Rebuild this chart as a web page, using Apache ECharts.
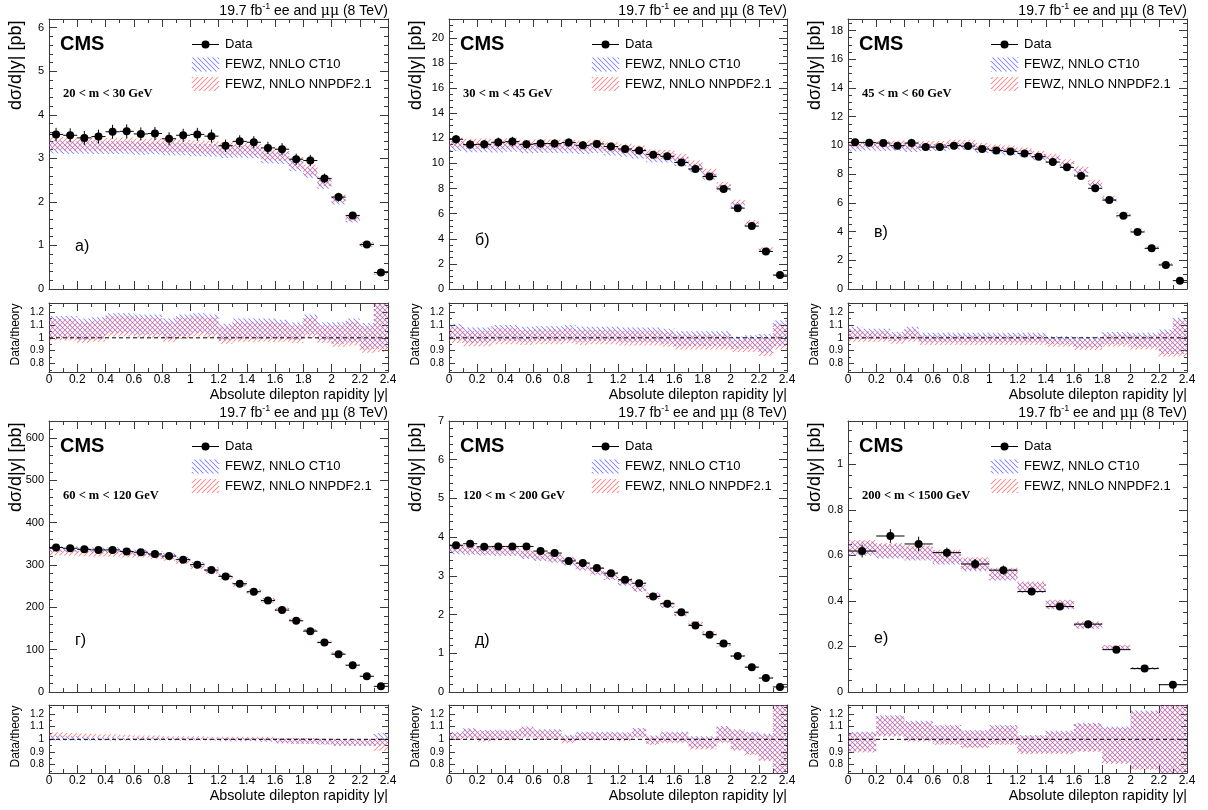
<!DOCTYPE html>
<html>
<head>
<meta charset="utf-8">
<script src="https://cdn.jsdelivr.net/npm/echarts@6/dist/echarts.min.js"></script>
<style>
  html, body { margin: 0; padding: 0; background: #fff; }
  #chart { width: 1208px; height: 810px; }
</style>
</head>
<body>
<div id="chart"></div>
<script>
// Bin edges in absolute dilepton rapidity |y|
const rapidityEdgesFine = [0, 0.1, 0.2, 0.3, 0.4, 0.5, 0.6, 0.7, 0.8, 0.9, 1.0, 1.1, 1.2, 1.3, 1.4, 1.5, 1.6, 1.7, 1.8, 1.9, 2.0, 2.1, 2.2, 2.3, 2.4];
const rapidityEdgesCoarse = [0, 0.2, 0.4, 0.6, 0.8, 1.0, 1.2, 1.4, 1.6, 1.8, 2.0, 2.2, 2.4];

// Measured dσ/d|y| [pb] and its uncertainty, per mass window
const xsec20to30 = [3.55, 3.53, 3.47, 3.50, 3.61, 3.62, 3.56, 3.57, 3.45, 3.53, 3.55, 3.51, 3.29, 3.39, 3.37, 3.24, 3.21, 2.98, 2.95, 2.54, 2.11, 1.69, 1.02, 0.38];
const err20to30 = [0.15, 0.16, 0.16, 0.16, 0.16, 0.16, 0.15, 0.15, 0.15, 0.15, 0.15, 0.15, 0.14, 0.14, 0.14, 0.14, 0.14, 0.13, 0.13, 0.11, 0.10, 0.08, 0.05, 0.03];
const xsec30to45 = [11.92, 11.50, 11.52, 11.68, 11.74, 11.52, 11.58, 11.58, 11.66, 11.44, 11.55, 11.34, 11.15, 11.02, 10.70, 10.57, 10.07, 9.56, 8.95, 7.97, 6.44, 5.01, 2.99, 1.11];
const err30to45 = [0.35, 0.35, 0.35, 0.38, 0.38, 0.33, 0.33, 0.33, 0.33, 0.32, 0.32, 0.31, 0.30, 0.30, 0.28, 0.28, 0.27, 0.26, 0.24, 0.22, 0.19, 0.15, 0.10, 0.05];
const xsec45to60 = [10.21, 10.19, 10.16, 9.98, 10.16, 9.88, 9.88, 9.98, 9.95, 9.74, 9.65, 9.58, 9.44, 9.21, 8.84, 8.47, 7.87, 7.01, 6.19, 5.10, 3.97, 2.83, 1.67, 0.58];
const err45to60 = [0.25, 0.25, 0.25, 0.25, 0.30, 0.22, 0.22, 0.22, 0.22, 0.22, 0.22, 0.22, 0.21, 0.21, 0.20, 0.20, 0.19, 0.17, 0.15, 0.13, 0.11, 0.08, 0.06, 0.03];
const xsec60to120 = [341, 339.5, 337, 335.5, 335.5, 332, 330, 326, 321, 312.6, 300.8, 288, 273, 255.8, 236.8, 216.3, 193.4, 168.2, 143.7, 116.8, 89.2, 63.2, 37.1, 13.4];
const err60to120 = [4, 4, 4, 4, 4, 4, 4, 4, 4, 4, 4, 3.5, 3.5, 3.5, 3, 3, 3, 2.5, 2.5, 2, 2, 1.5, 1, 0.5];
const xsec120to200 = [3.79, 3.83, 3.75, 3.76, 3.76, 3.76, 3.64, 3.59, 3.385, 3.33, 3.20, 3.07, 2.90, 2.81, 2.47, 2.28, 2.06, 1.72, 1.48, 1.25, 0.93, 0.64, 0.36, 0.13];
const err120to200 = [0.06, 0.06, 0.06, 0.06, 0.06, 0.06, 0.06, 0.06, 0.06, 0.06, 0.05, 0.05, 0.05, 0.05, 0.05, 0.045, 0.04, 0.04, 0.035, 0.03, 0.025, 0.02, 0.015, 0.01];
const xsec200to1500 = [0.619, 0.685, 0.650, 0.612, 0.562, 0.535, 0.441, 0.375, 0.298, 0.186, 0.103, 0.032];
const err200to1500 = [0.028, 0.030, 0.032, 0.022, 0.022, 0.020, 0.016, 0.013, 0.010, 0.008, 0.006, 0.004];

// Data/theory bands: upper edge (CT10 side) and lower edge (NNPDF side)
const ratioHi20to30 = [1.17, 1.17, 1.15, 1.16, 1.19, 1.19, 1.18, 1.18, 1.15, 1.18, 1.19, 1.18, 1.11, 1.15, 1.15, 1.15, 1.14, 1.12, 1.18, 1.12, 1.12, 1.15, 1.115, 1.30];
const ratioLo20to30 = [0.98, 0.98, 0.96, 0.97, 1.01, 1.01, 1.00, 1.00, 0.97, 0.99, 1.01, 1.00, 0.955, 0.97, 0.97, 0.97, 0.97, 0.96, 1.00, 0.96, 0.93, 0.94, 0.885, 0.89];
const ratioHi30to45 = [1.11, 1.08, 1.08, 1.10, 1.10, 1.085, 1.09, 1.09, 1.10, 1.085, 1.085, 1.085, 1.08, 1.08, 1.08, 1.07, 1.05, 1.05, 1.05, 1.05, 1.01, 1.02, 1.03, 1.135];
const ratioLo30to45 = [0.96, 0.935, 0.935, 0.95, 0.95, 0.945, 0.95, 0.95, 0.957, 0.945, 0.95, 0.95, 0.94, 0.94, 0.94, 0.93, 0.91, 0.91, 0.91, 0.91, 0.89, 0.89, 0.86, 0.91];
const ratioHi45to60 = [1.085, 1.07, 1.07, 1.045, 1.085, 1.04, 1.04, 1.04, 1.04, 1.04, 1.04, 1.04, 1.04, 1.04, 1.013, 1.013, 1.008, 1.008, 1.045, 1.045, 1.04, 1.04, 1.065, 1.155];
const ratioLo45to60 = [0.97, 0.97, 0.97, 0.955, 0.97, 0.945, 0.945, 0.945, 0.945, 0.945, 0.945, 0.945, 0.945, 0.945, 0.93, 0.93, 0.905, 0.905, 0.93, 0.93, 0.91, 0.91, 0.855, 0.855];
const ratioHi60to120 = [1.055, 1.05, 1.045, 1.04, 1.04, 1.035, 1.03, 1.03, 1.025, 1.025, 1.025, 1.02, 1.02, 1.02, 1.02, 1.02, 1.01, 1.01, 1.01, 1.005, 1.0, 1.0, 1.0, 1.05];
const ratioLo60to120 = [0.99, 0.99, 0.99, 0.99, 0.99, 0.99, 0.99, 0.99, 0.99, 0.99, 0.99, 0.99, 0.985, 0.985, 0.985, 0.98, 0.97, 0.965, 0.965, 0.96, 0.95, 0.95, 0.95, 0.91];
const ratioHi120to200 = [1.06, 1.087, 1.075, 1.075, 1.075, 1.10, 1.08, 1.08, 1.035, 1.06, 1.06, 1.06, 1.055, 1.09, 1.03, 1.06, 1.06, 1.025, 1.025, 1.105, 1.08, 1.06, 1.045, 1.30];
const ratioLo120to200 = [0.995, 1.0, 0.98, 0.99, 0.99, 1.013, 0.995, 0.995, 0.97, 0.99, 0.99, 0.99, 0.985, 1.01, 0.955, 0.97, 0.97, 0.92, 0.92, 0.97, 0.91, 0.875, 0.83, 0.70];
const ratioHi200to1500 = [1.06, 1.19, 1.147, 1.113, 1.074, 1.113, 1.034, 1.068, 1.13, 1.10, 1.226, 1.30];
const ratioLo200to1500 = [0.897, 1.02, 0.98, 0.955, 0.93, 0.955, 0.884, 0.884, 0.90, 0.805, 0.758, 0.70];

// CT10 minus NNPDF2.1 shift of the data/theory ratio
const pdfShift60to120 = [-0.025, -0.025, -0.025, -0.025, -0.025, -0.025, -0.015, -0.015, -0.015, -0.015, -0.015, -0.015, -0.01, -0.01, -0.01, -0.01, 0, 0, 0, 0, 0, 0, 0, 0.04];
const pdfShift = [0.025, 0.025, 0.02, pdfShift60to120, 0.01, 0.01];
// Relative theory uncertainty of the FEWZ predictions
const theoryUnc = [0.045, 0.035, 0.025, 0.02, 0.03, 0.05];

const massWindows = ['20 < m < 30 GeV', '30 < m < 45 GeV', '45 < m < 60 GeV', '60 < m < 120 GeV', '120 < m < 200 GeV', '200 < m < 1500 GeV'];
const panelTags = ['а)', 'б)', 'в)', 'г)', 'д)', 'е)'];
const yAxisMax = [6.2, 21.5, 18.8, 640, 7, 1.19];
const yAxisStep = [1, 2, 2, 100, 1, 0.2];
const yMinorSplit = [5, 4, 4, 5, 5, 4];
const ratioRange = [0.735, 1.27];
const ratioUnity = 1;

const panels = [
  { edges: rapidityEdgesFine, xsec: xsec20to30, err: err20to30, hi: ratioHi20to30, lo: ratioLo20to30 },
  { edges: rapidityEdgesFine, xsec: xsec30to45, err: err30to45, hi: ratioHi30to45, lo: ratioLo30to45 },
  { edges: rapidityEdgesFine, xsec: xsec45to60, err: err45to60, hi: ratioHi45to60, lo: ratioLo45to60 },
  { edges: rapidityEdgesFine, xsec: xsec60to120, err: err60to120, hi: ratioHi60to120, lo: ratioLo60to120 },
  { edges: rapidityEdgesFine, xsec: xsec120to200, err: err120to200, hi: ratioHi120to200, lo: ratioLo120to200 },
  { edges: rapidityEdgesCoarse, xsec: xsec200to1500, err: err200to1500, hi: ratioHi200to1500, lo: ratioLo200to1500 }
];

// ---- layout of the 3 x 2 pads ----
const colLeft = [49, 449, 848];
const colWidth = [339, 338, 339];
const mainTop = [19, 421];
const mainHeight = [270, 271];
const ratioTop = [303, 705];
const ratioHeight = [69, 68];
const tagOffset = [228, 222, 214, 220, 220, 218];

const FONT = '"Liberation Sans", Arial, Helvetica, sans-serif';
const AXIS_COLOR = '#3a3a3a';
const CT_COLOR = 'rgba(70, 70, 255, 0.7)';
const NN_COLOR = 'rgba(255, 70, 70, 0.7)';
const HATCH_STEP = 5;
const HATCH_W = 1.2;

// Diagonal hatch strokes filling a rectangle, aligned to a page-wide lattice
// so neighbouring bins join up.  rising: '/' strokes, otherwise '\' strokes.
// Each stroke is a thin parallelogram.
function hatchLines(xa, ya, xb, yb, rising, color) {
  const x0 = Math.min(xa, xb), x1 = Math.max(xa, xb);
  const y0 = Math.min(ya, yb), y1 = Math.max(ya, yb);
  const s = HATCH_STEP, h = HATCH_W / 2, out = [];
  const st = { fill: color };
  function seg(ax, ay, bx, by) {
    out.push({ type: 'polygon', shape: { points: [[ax - h, ay], [bx - h, by], [bx + h, by], [ax + h, ay]] }, style: st });
  }
  if (rising) {
    for (let c = Math.ceil((x0 + y0) / s) * s; c <= x1 + y1; c += s) {
      const p = Math.max(y0, c - x1), q = Math.min(y1, c - x0);
      if (q > p) seg(c - p, p, c - q, q);
    }
  } else {
    for (let c = Math.ceil((x0 - y1) / s) * s; c <= x1 - y0; c += s) {
      const p = Math.max(y0, x0 - c), q = Math.min(y1, x1 - c);
      if (q > p) seg(p + c, p, q + c, q);
    }
  }
  return out;
}

function tickText(step) {
  return function (v) {
    const q = v / step;
    return Math.abs(q - Math.round(q)) < 1e-6 ? String(+v.toFixed(4)) : '';
  };
}

function bandRenderer(rising, color) {
  return function (params, api) {
    const a = api.coord([api.value(0), api.value(3)]);
    const b = api.coord([api.value(1), api.value(2)]);
    return { type: 'group', children: hatchLines(a[0], a[1], b[0], b[1], rising, color) };
  };
}

function pointRenderer(params, api) {
  const x0 = api.value(0), x1 = api.value(1), y = api.value(2), e = api.value(3);
  const xc = (x0 + x1) / 2;
  const l = api.coord([x0, y]), r = api.coord([x1, y]);
  const t = api.coord([xc, y + e]), b = api.coord([xc, y - e]);
  const c = api.coord([xc, y]);
  return {
    type: 'group',
    children: [
      { type: 'line', shape: { x1: l[0], y1: l[1], x2: r[0], y2: r[1] }, style: { stroke: '#000', lineWidth: 1 } },
      { type: 'line', shape: { x1: t[0], y1: t[1], x2: b[0], y2: b[1] }, style: { stroke: '#000', lineWidth: 1 } },
      { type: 'circle', shape: { cx: c[0], cy: c[1], r: 4 }, style: { fill: '#000' } }
    ]
  };
}

function xAxesFor(gi, labelled) {
  const base = {
    type: 'value', gridIndex: gi, min: 0, max: 2.4, interval: 0.2,
    splitLine: { show: false },
    axisLine: { show: true, onZero: false, lineStyle: { color: AXIS_COLOR, width: 1 } },
    axisTick: { show: true, inside: true, length: 8, lineStyle: { color: AXIS_COLOR } },
    minorTick: { show: true, splitNumber: 2, length: 4, lineStyle: { color: AXIS_COLOR } }
  };
  return [
    Object.assign({}, base, {
      position: 'bottom',
      axisLabel: labelled
        ? { show: true, fontSize: 12, color: '#000', margin: 2, fontFamily: FONT, formatter: tickText(0.2) }
        : { show: false }
    }),
    Object.assign({}, base, { position: 'top', axisLabel: { show: false } })
  ];
}

function yAxesFor(gi, cfg) {
  const base = {
    type: 'value', gridIndex: gi, min: cfg.min, max: cfg.max,
    splitLine: { show: false },
    axisLine: { show: true, onZero: false, lineStyle: { color: AXIS_COLOR, width: 1 } },
    axisTick: { show: true, inside: true, length: cfg.tick, lineStyle: { color: AXIS_COLOR } },
    minorTick: { show: true, splitNumber: cfg.minor, length: cfg.tick / 2, lineStyle: { color: AXIS_COLOR } }
  };
  if (cfg.interval) base.interval = cfg.interval; else base.splitNumber = cfg.splitNumber;
  return [
    Object.assign({}, base, {
      position: 'left',
      axisLabel: { show: true, fontSize: cfg.font, color: '#000', margin: 5, fontFamily: FONT, formatter: tickText(cfg.step) }
    }),
    Object.assign({}, base, { position: 'right', axisLabel: { show: false } })
  ];
}

const grids = [], xAxis = [], yAxis = [], series = [], graphic = [];

panels.forEach(function (p, i) {
  const col = i % 3, row = Math.floor(i / 3);
  const left = colLeft[col], width = colWidth[col];
  const mt = mainTop[row], mh = mainHeight[row];
  const rt = ratioTop[row], rh = ratioHeight[row];
  const shift = pdfShift[i];
  const unc = theoryUnc[i];

  // main pad
  const gMain = grids.length;
  grids.push({ left: left, top: mt, width: width, height: mh });
  const xiMain = xAxis.length, yiMain = yAxis.length;
  xAxis.push.apply(xAxis, xAxesFor(gMain, false));
  yAxis.push.apply(yAxis, yAxesFor(gMain, { min: 0, max: yAxisMax[i], interval: yAxisStep[i], step: yAxisStep[i], minor: yMinorSplit[i], tick: 8, font: 11 }));

  // ratio pad
  const gRatio = grids.length;
  grids.push({ left: left, top: rt, width: width, height: rh });
  const xiRatio = xAxis.length, yiRatio = yAxis.length;
  xAxis.push.apply(xAxis, xAxesFor(gRatio, true));
  yAxis.push.apply(yAxis, yAxesFor(gRatio, { min: ratioRange[0], max: ratioRange[1], splitNumber: 5, step: 0.1, minor: 2, tick: 6, font: 10 }));

  const ctRatio = [], nnRatio = [], ctMain = [], nnMain = [], points = [];
  p.xsec.forEach(function (y, k) {
    const s = Array.isArray(shift) ? shift[k] : shift;
    const x0 = p.edges[k], x1 = p.edges[k + 1];
    const ctLo = p.lo[k] + Math.max(s, 0), ctHi = p.hi[k] + Math.min(s, 0);
    const nnLo = p.lo[k] - Math.min(s, 0), nnHi = p.hi[k] - Math.max(s, 0);
    ctRatio.push([x0, x1, ctLo, ctHi]);
    nnRatio.push([x0, x1, nnLo, nnHi]);
    const ct = y / ((ctLo + ctHi) / 2);
    const nn = y / ((nnLo + nnHi) / 2);
    ctMain.push([x0, x1, ct * (1 - unc), ct * (1 + unc)]);
    nnMain.push([x0, x1, nn * (1 - unc), nn * (1 + unc)]);
    points.push([x0, x1, y, p.err[k]]);
  });

  series.push(
    { type: 'custom', name: 'FEWZ, NNLO CT10', xAxisIndex: xiMain, yAxisIndex: yiMain, clip: true, silent: true, z: 2,
      encode: { x: [0, 1], y: [2, 3] }, renderItem: bandRenderer(false, CT_COLOR), data: ctMain },
    { type: 'custom', name: 'FEWZ, NNLO NNPDF2.1', xAxisIndex: xiMain, yAxisIndex: yiMain, clip: true, silent: true, z: 2,
      encode: { x: [0, 1], y: [2, 3] }, renderItem: bandRenderer(true, NN_COLOR), data: nnMain },
    { type: 'custom', name: 'Data', xAxisIndex: xiMain, yAxisIndex: yiMain, clip: true, silent: true, z: 5,
      encode: { x: [0, 1], y: 2 }, renderItem: pointRenderer, data: points },
    { type: 'custom', xAxisIndex: xiRatio, yAxisIndex: yiRatio, clip: true, silent: true, z: 2,
      encode: { x: [0, 1], y: [2, 3] }, renderItem: bandRenderer(false, CT_COLOR), data: ctRatio },
    { type: 'custom', xAxisIndex: xiRatio, yAxisIndex: yiRatio, clip: true, silent: true, z: 2,
      encode: { x: [0, 1], y: [2, 3] }, renderItem: bandRenderer(true, NN_COLOR), data: nnRatio },
    { type: 'line', xAxisIndex: xiRatio, yAxisIndex: yiRatio, silent: true, z: 3, symbol: 'none', animation: false,
      lineStyle: { color: '#000', width: 1, type: [4, 3] },
      data: [[0, ratioUnity], [2.4, ratioUnity]] }
  );

  // ---- texts and legend ----
  const lx = left + 143, lw = 27;
  graphic.push(
    { type: 'text', x: left + width, y: mt - 8,
      style: { text: '{a|19.7 fb}{s|-1}{a| ee and }{m|μμ}{a| (8 TeV)}', align: 'right', verticalAlign: 'middle',
        rich: {
          a: { fontSize: 14, fontFamily: FONT, fill: '#000', lineHeight: 18 },
          s: { fontSize: 9, fontFamily: FONT, fill: '#000', lineHeight: 18, verticalAlign: 'top' },
          m: { fontSize: 14, fontFamily: '"DejaVu Serif", "Liberation Serif", serif', fill: '#000', lineHeight: 18 }
        } } },
    { type: 'text', x: left + 11, y: mt + 25.5,
      style: { text: 'CMS', fontSize: 20, fontWeight: 'bold', fontFamily: FONT, fill: '#000', verticalAlign: 'middle' } },
    { type: 'text', x: left + 14, y: mt + 75,
      style: { text: massWindows[i], fontSize: 12.5, fontWeight: 'bold', fontFamily: '"Liberation Serif", "Times New Roman", serif', fill: '#000', verticalAlign: 'middle' } },
    { type: 'text', x: left + 26, y: mt + tagOffset[i],
      style: { text: panelTags[i], fontSize: 16, fontFamily: FONT, fill: '#000', verticalAlign: 'middle' } },
    { type: 'line', shape: { x1: lx, y1: mt + 25.5, x2: lx + lw, y2: mt + 25.5 }, style: { stroke: '#000', lineWidth: 1 } },
    { type: 'circle', shape: { cx: lx + lw / 2, cy: mt + 25.5, r: 4 }, style: { fill: '#000' } },
    { type: 'text', x: left + 176, y: mt + 25.5, style: { text: 'Data', fontSize: 13, fontFamily: FONT, fill: '#000', verticalAlign: 'middle' } },
    { type: 'group', children: hatchLines(lx, mt + 38.5, lx + lw, mt + 52.5, false, CT_COLOR) },
    { type: 'text', x: left + 176, y: mt + 45.5, style: { text: 'FEWZ, NNLO CT10', fontSize: 13, fontFamily: FONT, fill: '#000', verticalAlign: 'middle' } },
    { type: 'group', children: hatchLines(lx, mt + 58, lx + lw, mt + 72, true, NN_COLOR) },
    { type: 'text', x: left + 176, y: mt + 65, style: { text: 'FEWZ, NNLO NNPDF2.1', fontSize: 13, fontFamily: FONT, fill: '#000', verticalAlign: 'middle' } },
    { type: 'text', x: left - 32.5, y: mt + 1.5, rotation: Math.PI / 2,
      style: { text: 'dσ/d|y| [pb]', fontSize: 18, fontFamily: FONT, fill: '#000', align: 'right', verticalAlign: 'middle' } },
    { type: 'text', x: left - 33, y: rt + 0.5, rotation: Math.PI / 2,
      style: { text: 'Data/theory', fontSize: 12, fontFamily: FONT, fill: '#000', align: 'right', verticalAlign: 'middle' } },
    { type: 'text', x: left + width, y: rt + rh + 23.5,
      style: { text: 'Absolute dilepton rapidity |y|', fontSize: 14.3, fontFamily: FONT, fill: '#000', align: 'right', verticalAlign: 'middle' } }
  );
});

const chart = echarts.init(document.getElementById('chart'), null, { renderer: 'canvas' });
chart.setOption({
  backgroundColor: '#fff',
  animation: false,
  grid: grids,
  xAxis: xAxis,
  yAxis: yAxis,
  series: series,
  graphic: graphic
});
</script>
</body>
</html>
